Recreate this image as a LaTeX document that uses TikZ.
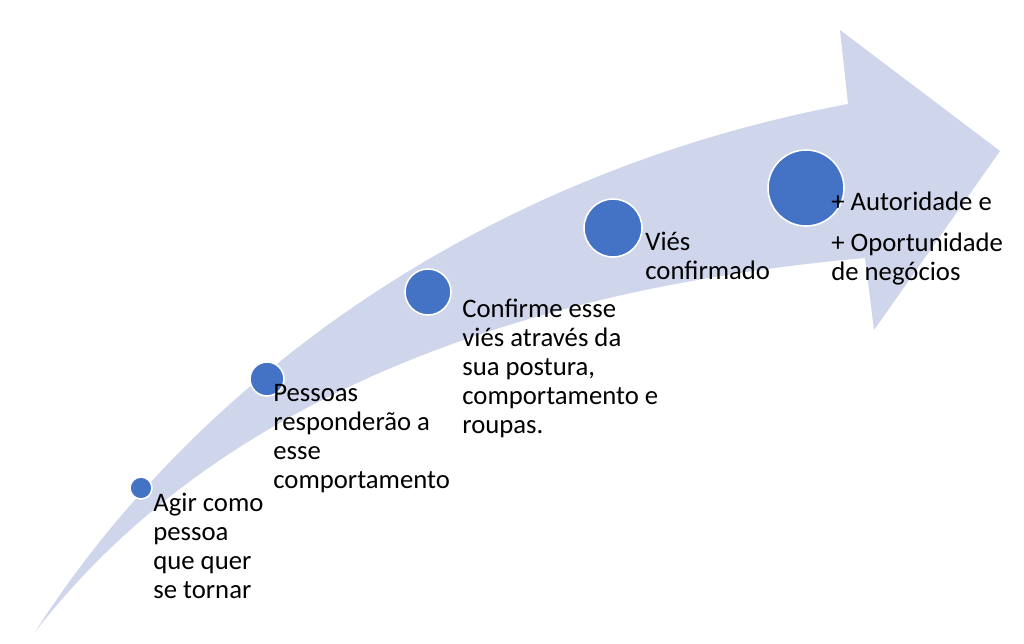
\documentclass[tikz,border=0pt]{standalone}
\usepackage{fontspec}
\setmainfont{Carlito}
\usepackage{tikz}
\definecolor{bandfill}{RGB}{207,213,234}
\definecolor{dotblue}{RGB}{68,114,196}
\tikzset{
band/.style = {fill=bandfill, draw=none},
dot/.style  = {draw=white, fill=dotblue, circle, line width=0.9pt, inner sep=0pt},
step label/.style = {anchor=base west, inner sep=0pt, align=left,
  font=\fontsize{15.2pt}{16.4pt}\selectfont}
}
\begin{document}
\begin{tikzpicture}[x=0.02cm, y=-0.02cm]
    \useasboundingbox (0,0) rectangle (1024,643);
    % the curved arrow behind everything
    \fill [band] (35,632) .. controls (190,390) and (470,175) .. (848,104)
        -- (840,30) -- (1000,151) -- (874,330) -- (865,258)
        .. controls (560,285) and (230,380) .. cycle;

    % dots, growing along the arrow
    \node [dot, minimum size=0.44cm] (dot1) at (141,488) {};
    \node [dot, minimum size=0.68cm] (dot2) at (267,379) {};
    \node [dot, minimum size=0.92cm] (dot3) at (428,292) {};
    \node [dot, minimum size=1.16cm] (dot4) at (613,228) {};
    \node [dot, minimum size=1.52cm] (dot5) at (806,188) {};

    % labels next to the dots (base = last line)
    \node [step label] (agir) at (153,598) {Agir como\\pessoa\\que quer\\se tornar};
    \node [step label] (pessoas) at (273,488) {Pessoas\\responderão a\\esse\\comportamento};
    \node [step label] (confirme) at (462,433) {Confirme esse\\viés através da\\sua postura,\\comportamento e\\roupas.};
    \node [step label] (vies) at (645,279) {Viés\\confirmado};
    \node [step label] (autoridade) at (831,280) {+ Autoridade e\\[6.8pt]+ Oportunidade\\de negócios};
\end{tikzpicture}
\end{document}
